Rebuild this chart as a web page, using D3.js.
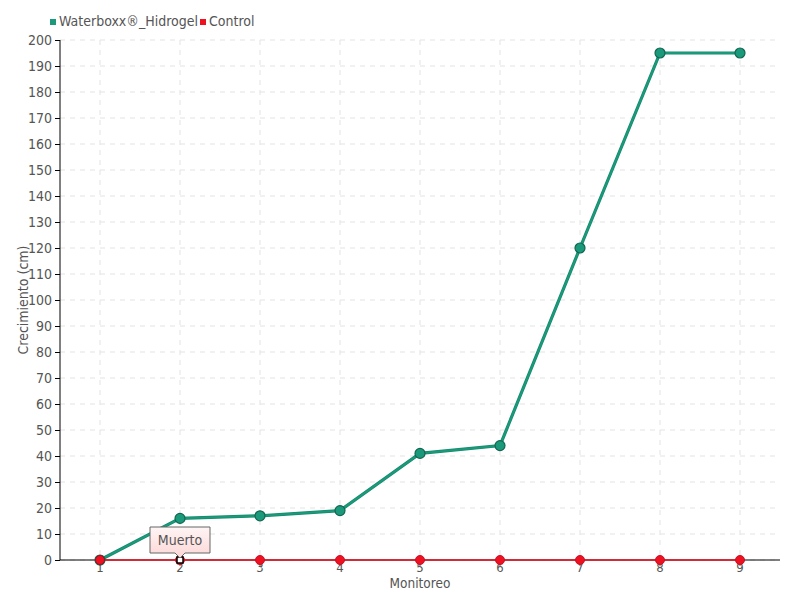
<!DOCTYPE html>
<html><head><meta charset="utf-8">
<script src="https://cdn.jsdelivr.net/npm/d3@7"></script>
<style>
body{margin:0;background:#fff;}
text{font-family:"Liberation Sans Narrow","DejaVu Sans Condensed","Roboto",sans-serif;fill:#555;}
</style></head>
<body><svg id="c" width="800" height="600"></svg>
<script>
const categories=["1","2","3","4","5","6","7","8","9"];
const waterboxx=[0,16,17,19,41,44,120,195,195];
const control=[0,0,0,0,0,0,0,0,0];
const yTicks=d3.range(0,201,10);
const seriesNames=["Waterboxx®_Hidrogel","Control"];
const colors=["#1b9a7b","#ee1122"];

const svg=d3.select("#c");
const m={l:60,r:20,t:40,b:40};
const W=800,H=600;
const x=d3.scaleBand().domain(categories).range([m.l,W-m.r]);
const y=d3.scaleLinear().domain([0,200]).range([H-m.b,m.t]);
const cx=d=>x(d)+x.bandwidth()/2;

// grid
const g=svg.append("g");
g.selectAll("line.h").data(yTicks).join("line")
 .attr("x1",m.l).attr("x2",W-m.r).attr("y1",d=>y(d)).attr("y2",d=>y(d))
 .attr("stroke","#e3e3e3").attr("stroke-dasharray","5,5");
g.selectAll("line.v").data(categories).join("line")
 .attr("x1",cx).attr("x2",cx).attr("y1",m.t).attr("y2",H-m.b)
 .attr("stroke","#e3e3e3").attr("stroke-dasharray","5,5");

// axes
const ya=svg.append("g").attr("transform",`translate(${m.l},0)`)
 .call(d3.axisLeft(y).tickValues(yTicks).tickSize(5).tickPadding(3));
ya.select(".domain").attr("stroke","#000").attr("d",`M0,${y(200)}V${y(0)}`);
ya.selectAll(".tick line").attr("stroke","#000");
ya.selectAll("text").style("font-size","14px").attr("fill","#555");

const xa=svg.append("g").attr("transform",`translate(0,${H-m.b})`)
 .call(d3.axisBottom(x).tickSize(6).tickPadding(-4));
xa.select(".domain").attr("stroke","#000").attr("d",`M${m.l},0H${W-m.r}`);
xa.selectAll(".tick line").attr("stroke","#555");
xa.selectAll("text").style("font-size","13px").attr("fill","#555").attr("dy","0.75em");

svg.append("text").attr("x",(m.l+W-m.r)/2).attr("y",588).attr("text-anchor","middle")
 .style("font-size","13.5px").text("Monitoreo");
svg.append("text").attr("transform",`translate(28,${(m.t+H-m.b)/2}) rotate(-90)`)
 .attr("text-anchor","middle").style("font-size","14px").text("Crecimiento (cm)");

// lines
const line=d3.line().x((d,i)=>cx(categories[i])).y(d=>y(d));
svg.append("path").datum(control).attr("d",line).attr("fill","none").attr("stroke",colors[1]).attr("stroke-width",1.5);
svg.append("path").datum(waterboxx).attr("d",line).attr("fill","none").attr("stroke","#168a6c").attr("stroke-width",3.2);
svg.append("path").datum(waterboxx).attr("d",line).attr("fill","none").attr("stroke",colors[0]).attr("stroke-width",1.8);

svg.selectAll("circle.r").data(control).join("circle")
 .attr("cx",(d,i)=>cx(categories[i])).attr("cy",d=>y(d)).attr("r",4.5)
 .attr("fill",colors[1]).attr("stroke","#c81020").attr("stroke-width",1);
svg.selectAll("circle.w").data(waterboxx).join("circle")
 .attr("cx",(d,i)=>cx(categories[i])).attr("cy",d=>y(d)).attr("r",5)
 .attr("fill",colors[0]).attr("stroke","#126650").attr("stroke-width",1.2);
svg.append("circle").attr("cx",cx(categories[0])).attr("cy",y(control[0])).attr("r",4.5)
 .attr("fill",colors[1]).attr("stroke","#a01020").attr("stroke-width",1);

// highlighted point + tooltip
const hx=cx(categories[1]),hy=y(control[1]);
svg.append("rect").attr("x",hx-3).attr("y",hy-3).attr("width",6).attr("height",6)
 .attr("fill","#fff").attr("stroke","#000").attr("stroke-width",1.5);
const defs=svg.append("defs");
const gr=defs.append("linearGradient").attr("id","tg").attr("x1",0).attr("x2",0).attr("y1",0).attr("y2",1);
gr.append("stop").attr("offset","0").attr("stop-color","#fff5f5");
gr.append("stop").attr("offset","1").attr("stop-color","#fdd6d6");
const tw=60,th=26,tb=hy-7;
svg.append("path").attr("d",`M${hx-tw/2},${tb-th}H${hx+tw/2}V${tb}H${hx+5}L${hx},${tb+5}L${hx-5},${tb}H${hx-tw/2}Z`)
 .attr("fill","url(#tg)").attr("stroke","#666").attr("stroke-width",1);
svg.append("text").attr("x",hx).attr("y",tb-th/2+5).attr("text-anchor","middle")
 .style("font-size","14px").attr("fill","#444").text("Muerto");

// legend
const lg=svg.append("g");
const lx=[50,200];
seriesNames.forEach((n,i)=>{
 lg.append("rect").attr("x",lx[i]).attr("y",19).attr("width",6).attr("height",6).attr("fill",colors[i]);
 lg.append("text").attr("x",lx[i]+9).attr("y",26).style("font-size","14px").text(n);
});
</script></body></html>
